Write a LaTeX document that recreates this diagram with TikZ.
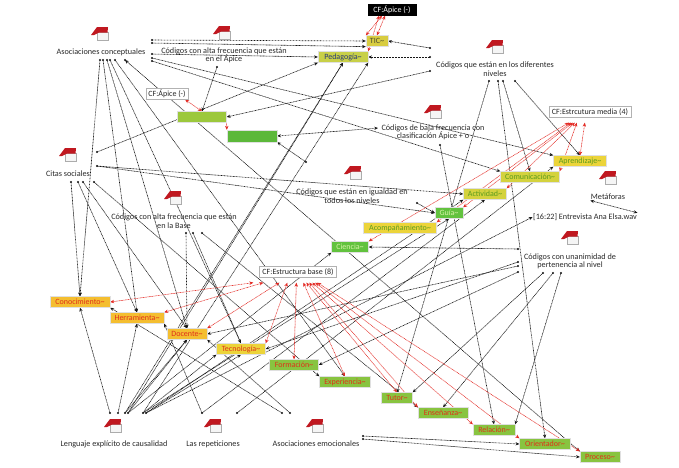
\documentclass[tikz,border=0pt]{standalone}
\usepackage{fontspec}
\setmainfont{Carlito}
\usetikzlibrary{arrows.meta,calc}
\pgfdeclarelayer{bg}
\pgfsetlayers{bg,main}
\newcommand\cdtilde{\textasciitilde}
\definecolor{txtc}{HTML}{2A2A2A}
\definecolor{lnc}{HTML}{151515}
\definecolor{redl}{HTML}{E42A24}
\definecolor{bookred}{HTML}{C01820}
\definecolor{fTIC}{HTML}{D8CC40}\definecolor{tTIC}{HTML}{4A4A30}
\definecolor{fPED}{HTML}{C8D048}\definecolor{tPED}{HTML}{283878}
\definecolor{fGBa}{HTML}{9CC83C}\definecolor{fGBb}{HTML}{5CB83A}
\definecolor{fYEL}{HTML}{ECD43A}\definecolor{tGRN}{HTML}{5A9C1E}
\definecolor{fYGR}{HTML}{D4D23E}
\definecolor{fGRN}{HTML}{62C23E}\definecolor{tLGT}{HTML}{D8F2A8}
\definecolor{fORA}{HTML}{F4BE30}\definecolor{tRED}{HTML}{E0301A}
\definecolor{fGRR}{HTML}{88C440}
\tikzset{
  x=1pt,y=-1pt,
  lbl/.style={font=\fontsize{8.2pt}{8.4pt}\selectfont, text=txtc, align=center, inner sep=0.5pt},
  codebox/.style={font=\fontsize{8pt}{8pt}\selectfont, inner xsep=2pt, inner ysep=1pt, minimum height=11pt, draw=black!12, line width=0.3pt},
  cfbox/.style={codebox, fill=white, draw=black!30, text=black!85},
  lnk/.style={dash pattern=on 0.9pt off 0.6pt, line width=0.6pt, lnc, -{Stealth[length=3.8pt,width=3.2pt]}},
  blnk/.style={lnk, {Stealth[length=3.8pt,width=3.2pt]}-{Stealth[length=3.8pt,width=3.2pt]}},
  rlnk/.style={dash pattern=on 0.9pt off 0.6pt, line width=0.55pt, redl, {Stealth[length=4pt,width=3.4pt]}-{Stealth[length=4pt,width=3.4pt]}},
  rlnkone/.style={dash pattern=on 0.9pt off 0.6pt, line width=0.55pt, redl, -{Stealth[length=4pt,width=3.4pt]}},
  memoicon/.pic={
    \draw[gray!65, line width=0.4pt, fill=gray!8] (-3,-1) rectangle (8,7.5);
    \fill[bookred] (-9,2) -- (-3,-6) -- (8,-6) -- (7.5,-0.5) -- (-1,-0.5) -- (-6,2) -- cycle;
  },
}
\begin{document}
\begin{tikzpicture}
\useasboundingbox (0,0) rectangle (679,467);
\begin{pgfonlayer}{bg}
\fill[white] (0,0) rectangle (679,467);
\end{pgfonlayer}

% ---------- memo icons ----------
\pic at (100,33) {memoicon};
\pic at (222,32) {memoicon};
\pic at (495,46) {memoicon};
\pic at (433,111) {memoicon};
\pic at (353,172) {memoicon};
\pic at (608,177) {memoicon};
\pic at (570,237) {memoicon};
\pic at (68,154) {memoicon};
\pic at (173,197) {memoicon};
\pic at (113,425) {memoicon};
\pic at (213,425) {memoicon};
\pic at (315,425) {memoicon};

% ---------- text labels ----------
\node[lbl] (lAC) at (101,52) {Asociaciones conceptuales};
\node[lbl] (lAP) at (224,55.5) {Códigos con alta frecuencia que están\\en el Ápice};
\node[lbl] (lDN) at (495,69) {Códigos que están en los diferentes\\niveles};
\node[lbl] (lBF) at (433,132.5) {Códigos de baja frecuencia con\\clasificación Ápice + o};
\node[lbl] (lIG) at (352,196) {Códigos que están en igualdad en\\todos los niveles};
\node[lbl] (met) at (608,197) {Metáforas};
\node[lbl] (ent) at (585,217) {[16:22] Entrevista Ana Elsa.wav};
\node[lbl] (lUN) at (570,261.5) {Códigos con unanimidad de\\pertenencia al nivel};
\node[lbl] (lCS) at (68,174) {Citas sociales};
\node[lbl] (lBA) at (174,221) {Códigos con alta frecuencia que están\\en la Base};
\node[lbl] (lLE) at (114,444) {Lenguaje explícito de causalidad};
\node[lbl] (lRE) at (213,444) {Las repeticiones};
\node[lbl] (lAE) at (316,444) {Asociaciones emocionales};

% ---------- CF boxes ----------
\node[codebox, fill=black, draw=black, text=white, minimum width=48pt] (cfA) at (392,10) {CF:Ápice (-)};
\node[cfbox, minimum width=42pt] (cfAw) at (167,94) {CF:Ápice (-)};
\node[cfbox, minimum width=82pt] (cfM) at (590,112) {CF:Estrcutura media (4)};
\node[cfbox, minimum width=77pt] (cfB) at (298,272) {CF:Estructura base (8)};

% ---------- code boxes ----------
\node[codebox, fill=fTIC, text=tTIC, minimum width=22pt] (tic) at (377,41) {TIC\cdtilde};
\node[codebox, fill=fPED, text=tPED, minimum width=50pt] (ped) at (343,57) {Pedagogía\cdtilde};
\node[codebox, fill=fGBa, minimum width=49pt, minimum height=11pt] (gb1) at (202,117) {};
\node[codebox, fill=fGBb, minimum width=50pt, minimum height=12pt] (gb2) at (252,136) {};
\node[codebox, fill=fYEL, text=tGRN, minimum width=53pt] (apr) at (580,161) {Aprendizaje\cdtilde};
\node[codebox, fill=fYGR, text=tGRN, minimum width=59pt] (com) at (530,177) {Comunicación\cdtilde};
\node[codebox, fill=fYGR, text=tGRN, minimum width=43pt] (act) at (485,194) {Actividad\cdtilde};
\node[codebox, fill=fGRN, text=tLGT, minimum width=28pt] (gui) at (449,213) {Guía\cdtilde};
\node[codebox, fill=fYEL, text=tGRN, minimum width=73pt] (aco) at (400,228) {Acompañamiento\cdtilde};
\node[codebox, fill=fGRN, text=tLGT, minimum width=37pt] (cie) at (350,247) {Ciencia\cdtilde};
\node[codebox, fill=fORA, text=tRED, minimum width=60pt] (con) at (80,302) {Conocimiento\cdtilde};
\node[codebox, fill=fORA, text=tRED, minimum width=54pt] (her) at (137,318) {Herramienta\cdtilde};
\node[codebox, fill=fORA, text=tRED, minimum width=40pt] (doc) at (187,334) {Docente\cdtilde};
\node[codebox, fill=fYEL, text=tRED, minimum width=49pt] (tec) at (241,349) {Tecnología\cdtilde};
\node[codebox, fill=fGRR, text=tRED, minimum width=49pt] (for) at (294,365) {Formación\cdtilde};
\node[codebox, fill=fGRR, text=tRED, minimum width=51pt] (exp) at (345,382) {Experiencia\cdtilde};
\node[codebox, fill=fGRR, text=tRED, minimum width=31pt] (tut) at (397,398) {Tutor\cdtilde};
\node[codebox, fill=fGRR, text=tRED, minimum width=50pt] (ens) at (443,413) {Enseñanza\cdtilde};
\node[codebox, fill=fGRR, text=tRED, minimum width=42pt] (rel) at (494,430) {Relación\cdtilde};
\node[codebox, fill=fGRR, text=tRED, minimum width=51pt] (ori) at (545,444) {Orientador\cdtilde};
\node[codebox, fill=fGRR, text=tRED, minimum width=40pt] (pro) at (600,457) {Proceso\cdtilde};

% ---------- connector end dots ----------
\coordinate (acA) at (100,60); \coordinate (acB) at (103,60); \coordinate (acC) at (107,60);
\coordinate (acD) at (110,60); \coordinate (acE) at (115,60); \coordinate (acF) at (125,60);
\coordinate (apA) at (152,40); \coordinate (apB) at (152,43); \coordinate (apC) at (152,54);
\coordinate (apD) at (152,58); \coordinate (apE) at (152,61); \coordinate (apF) at (217,67);
\coordinate (dnA) at (430,48); \coordinate (dnB) at (430,57); \coordinate (dnC) at (430,71);
\coordinate (dnD) at (489,81); \coordinate (dnE) at (498,81); \coordinate (dnF) at (503,81);
\coordinate (dnG) at (515,81);
\coordinate (bfA) at (378,128); \coordinate (bfB) at (440,145);
\coordinate (fr1) at (306,162);
\coordinate (csA) at (97,152); \coordinate (csB) at (97,166); \coordinate (csC) at (71,182);
\coordinate (csD) at (78,182); \coordinate (csE) at (83,182); \coordinate (csF) at (94,182);
\coordinate (igA) at (417,203);
\coordinate (baA) at (186,233); \coordinate (baB) at (193,233); \coordinate (baC) at (202,233);
\coordinate (unA) at (518,249); \coordinate (unB) at (518,262); \coordinate (unC) at (518,266);
\coordinate (unD) at (518,272); \coordinate (unE) at (543,273); \coordinate (unF) at (553,273);
\coordinate (unG) at (561,273);
\coordinate (leA) at (110,413); \coordinate (leB) at (118,413); \coordinate (leC) at (125,413);
\coordinate (leD) at (128,413); \coordinate (leE) at (143,413); \coordinate (leF) at (146,413);
\coordinate (reA) at (202,413); \coordinate (reB) at (237,413);
\coordinate (aeA) at (282,413); \coordinate (aeB) at (290,413); \coordinate (aeC) at (363,436);
\coordinate (aeD) at (363,439);

\begin{pgfonlayer}{bg}
% black links
\foreach \s/\t in {acA/con.north, acB/her.north, acC/doc.north, acD/tec.north, acE/exp.north,
  apA/tic.west, apB/tic.south west, apC/ped.west, apD/apr.north west, apE/com.north west, apF/gb1.north,
  dnA/tic.east, dnB/ped.east, dnC/gb1.east, dnD/tut.north, dnE/ori.north, dnF/com.north, dnG/apr.north,
  bfB/rel.north, fr1/gb2.south east,
  csA/ped.south west, csB/act.west, csB/gui.west, csC/con.north, csD/her.north, csE/doc.north, csF/exp.north west,
  igA/gui.west, baA/doc.north, baB/tec.north, baC/ens.north west,
  unA/cie.east, unB/tec.east, unC/doc.east, unD/for.east, unE/tut.north east, unF/ens.north, unG/rel.north east,
  leA/con.south, leB/her.south, leC/ped.south, leD/ped.south, leC/doc.south, leD/doc.south,
  leE/tec.south west, leF/tec.south, leE/ped.south east, leF/act.south west, leE/gui.south, leF/ent.west,
  leD/cie.south west, reA/her.south east, reA/act.south, reB/apr.south west,
  aeA/con.south east, aeB/doc.south east, aeC/ori.west, aeD/pro.west}
  \draw[lnk] (\s) -- (\t);
\draw[blnk] (acF) -- (pro.north west);
\draw[blnk] (bfA) -- (gb2.east);
\draw[blnk] (met.south west) -- (ent.north east);
% red links
\draw[rlnk] ($(cfA.south)+(-10,0)$) -- (tic.north west);
\draw[rlnk] ($(cfA.south)+(-7,0)$) -- (tic.north);
\draw[rlnk] ($(cfA.south)+(-13,0)$) -- (ped.north east);
\draw[rlnk] ($(cfAw.south east)+(-3,0)$) -- (gb1.north);
\draw[rlnkone] (gb1.south east) -- (gb2.north west);
\foreach \o/\t in {36/apr.north, 28/com.north east, 26/act.north east, 24/gui.north east, 22/aco.north east, 20/cie.north east}
  \draw[rlnk] ($(cfM.south west)+(\o,5)$) -- (\t);
\foreach \o/\t in {-6/con.east, 4/her.north east, 20/doc.north east, 28/tec.north east, 37/for.north, 44/exp.north,
  47/tut.north, 50/ens.north west, 53/rel.north west, 56/ori.north west, 58/pro.north west}
  \draw[rlnk] ($(cfB.south west)+(\o,5)$) -- (\t);
\end{pgfonlayer}

% dots at link starts
\foreach \c in {acA,acB,acC,acD,acE,acF,apA,apB,apC,apD,apE,apF,dnA,dnB,dnC,dnD,dnE,dnF,dnG,bfB,fr1,
  csA,csB,csC,csD,csE,csF,igA,baA,baB,baC,unA,unB,unC,unD,unE,unF,unG,leA,leB,leC,leD,leE,leF,reA,reB,aeA,aeB,aeC,aeD}
  \fill[lnc] (\c) circle (1.1);
\end{tikzpicture}
\end{document}
